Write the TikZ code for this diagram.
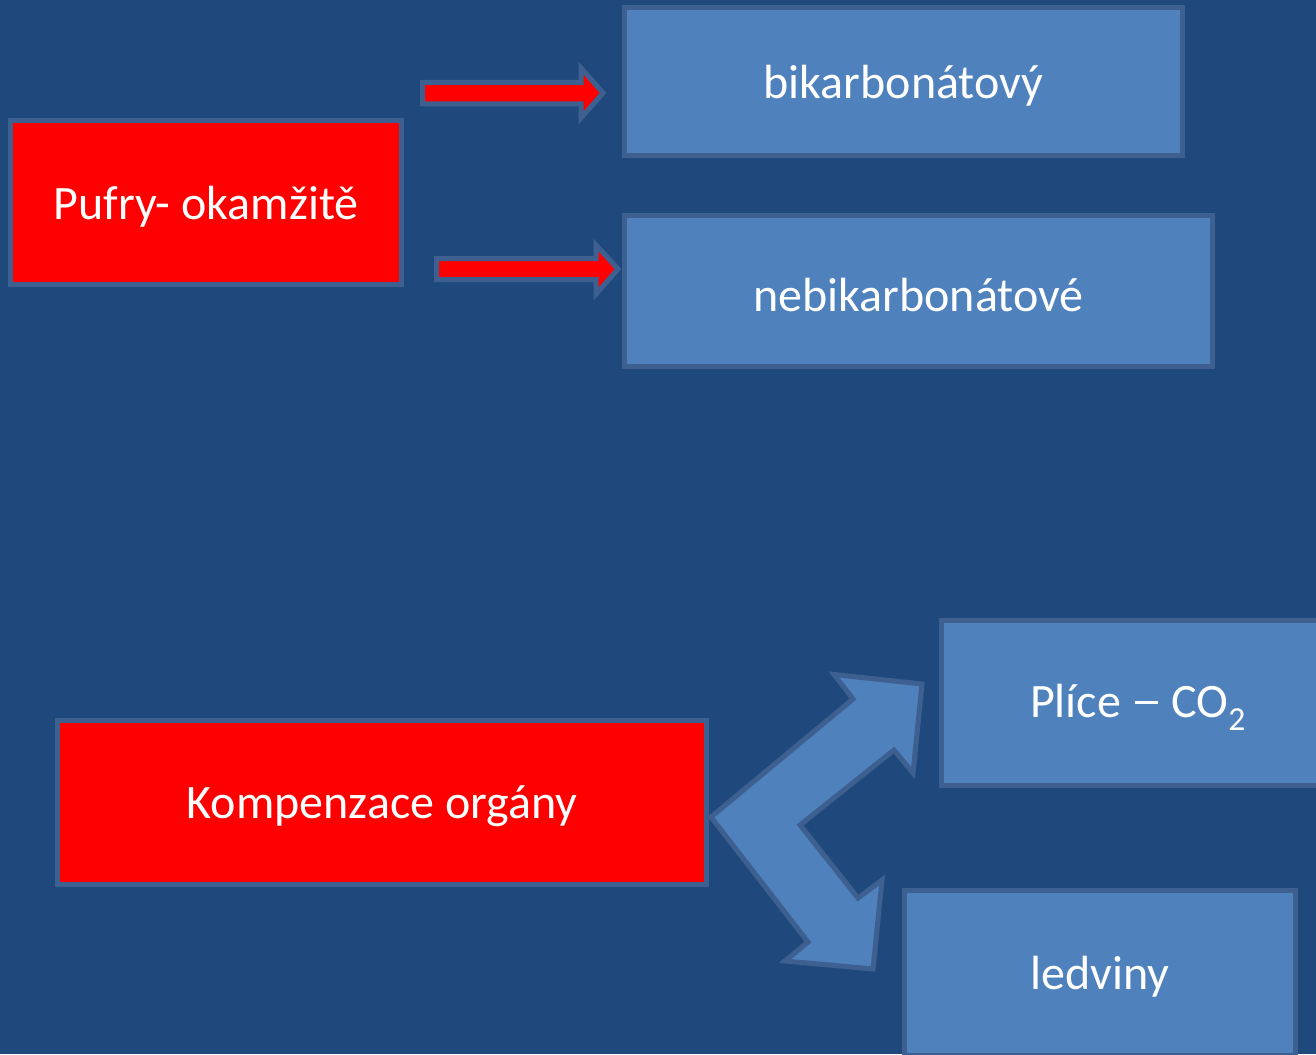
\documentclass[tikz,border=0pt]{standalone}
\usepackage{fontspec}
\setmainfont{Carlito}
\definecolor{bgblue}{HTML}{1F497D}
\definecolor{boxblue}{HTML}{4F81BD}
\definecolor{edgeblue}{HTML}{3D6090}
\definecolor{boxred}{HTML}{FF0000}
\newcommand{\lowtxt}[1]{\raisebox{-4pt}[\height][\depth]{#1}}
\tikzset{
  box/.style={draw=edgeblue, line width=5pt, fill=boxblue, text=white, inner sep=0pt,
    font=\fontsize{48}{56}\selectfont},
  redbox/.style={box, fill=boxred},
  blockarrow/.style={draw=edgeblue, line width=5pt, line join=miter, fill=#1},
}
\begin{document}
\begin{tikzpicture}[x=1pt,y=-1pt]
\useasboundingbox (0,0) rectangle (1316,1054);
\fill[bgblue] (0,0) rectangle (1316,1054);
\clip (0,0) rectangle (1316,1054);
% boxes
\node[redbox, minimum width=391pt, minimum height=164pt] (pufry) at (206,202.5) {\lowtxt{Pufry- okamžitě}};
\node[box, minimum width=558pt, minimum height=148pt] (bikarb) at (903.5,81.5) {\lowtxt{bikarbonátový}};
\node[box, minimum width=588pt, minimum height=151pt] (nebikarb) at (918.5,291) {\lowtxt{nebikarbonátové}};
\node[redbox, minimum width=649pt, minimum height=164pt] (komp) at (382,802.5) {\lowtxt{Kompenzace orgány}};
\node[box, minimum width=393pt, minimum height=165pt] (plice) at (1138,703) {\lowtxt{Plíce\hspace{3pt} \rule[0.28em]{0.47em}{0.05em}\hspace{3pt} CO\textsubscript{2}}};
\node[box, minimum width=391pt, minimum height=165pt] (ledviny) at (1100,973) {\lowtxt{ledviny}};
% red block arrows
\draw[blockarrow=boxred] (422.5,82.5) -- (581,82.5) -- (581,68) -- (603,93) -- (581,118) -- (581,104) -- (422.5,104) -- cycle;
\draw[blockarrow=boxred] (436.5,258.5) -- (596,258.5) -- (596,245) -- (618,269) -- (596,294) -- (596,279.5) -- (436.5,279.5) -- cycle;
% bent double arrow
\draw[blockarrow=boxblue] (711,817) -- (853,699) -- (834,674.5) -- (922,684) -- (913,773) -- (894,750) -- (800,825) -- (858,898) -- (882,880) -- (873,969) -- (785,961) -- (808,942) -- cycle;
\end{tikzpicture}
\end{document}
